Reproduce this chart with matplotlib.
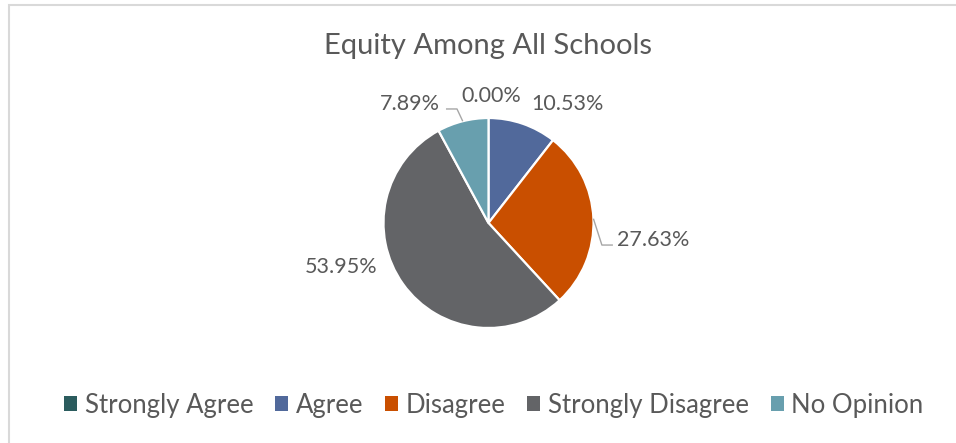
import numpy as np
import matplotlib
matplotlib.use("Agg")
import matplotlib.pyplot as plt
from matplotlib.patches import Rectangle, Patch

categories = ["Strongly Agree", "Agree", "Disagree", "Strongly Disagree", "No Opinion"]
shares = [0.00, 10.53, 27.63, 53.95, 7.89]
colors = ["#2B5C5E", "#51699B", "#C94F00", "#636467", "#689FAE"]

# label placement in pie-radius units (Excel "best fit" style)
label_pos = [(0.03, 1.21), (0.75, 1.13), (1.57, -0.16), (-1.40, -0.42), (-0.75, 1.13)]
# leader lines: elbow and end, only for the labels that have one
leaders = {2: [(1.08, -0.21), (1.185, -0.21)],
           4: [(-0.30, 1.086), (-0.405, 1.086)]}

W, H = 956, 443
cx, cy, R = 488.5, 223, 105

plt.rcParams["font.family"] = ["Lato", "DejaVu Sans"]
text_color = "#595959"

fig = plt.figure(figsize=(W / 100, H / 100), dpi=100)
ax = fig.add_axes([0, 0, 1, 1])

wedges, _ = ax.pie(shares, colors=colors, startangle=90, counterclock=False,
                   radius=1, center=(0, 0), frame=True,
                   wedgeprops=dict(edgecolor="white", linewidth=1.6))
ax.set_xlim(-cx / R, (W - cx) / R)
ax.set_ylim(-(H - cy) / R, cy / R)
ax.axis("off")

for i, (w, val) in enumerate(zip(wedges, shares)):
    x, y = label_pos[i]
    ax.text(x, y, f"{val:.2f}%", ha="center", va="center",
            fontsize=15.5, color=text_color)
    if i in leaders:
        mid = np.deg2rad((w.theta1 + w.theta2) / 2)
        pts = [(np.cos(mid), np.sin(mid))] + leaders[i]
        xs, ys = zip(*pts)
        ax.plot(xs, ys, color="#A6A6A6", linewidth=1.0, solid_capstyle="butt")

fig.text(cx / W, 1 - 46 / H, "Equity Among All Schools", ha="center", va="center",
         fontsize=21, color=text_color)

handles = [Patch(facecolor=c, edgecolor="none") for c in colors]
fig.legend(handles, categories, loc="center", bbox_to_anchor=(494 / W, 1 - 405 / H),
           ncol=5, frameon=False, fontsize=18.5, labelcolor=text_color,
           handlelength=0.5, handleheight=0.5, handletextpad=0.3,
           columnspacing=0.85)

# chart area outline (right and bottom edges fall outside the image)
fig.patches.append(Rectangle((9 / W, -0.1), 1.2, 1 - 5 / H + 0.1,
                             transform=fig.transFigure, fill=False,
                             edgecolor="#D9D9D9", linewidth=1.5))

fig.savefig("out.png", dpi=100)
